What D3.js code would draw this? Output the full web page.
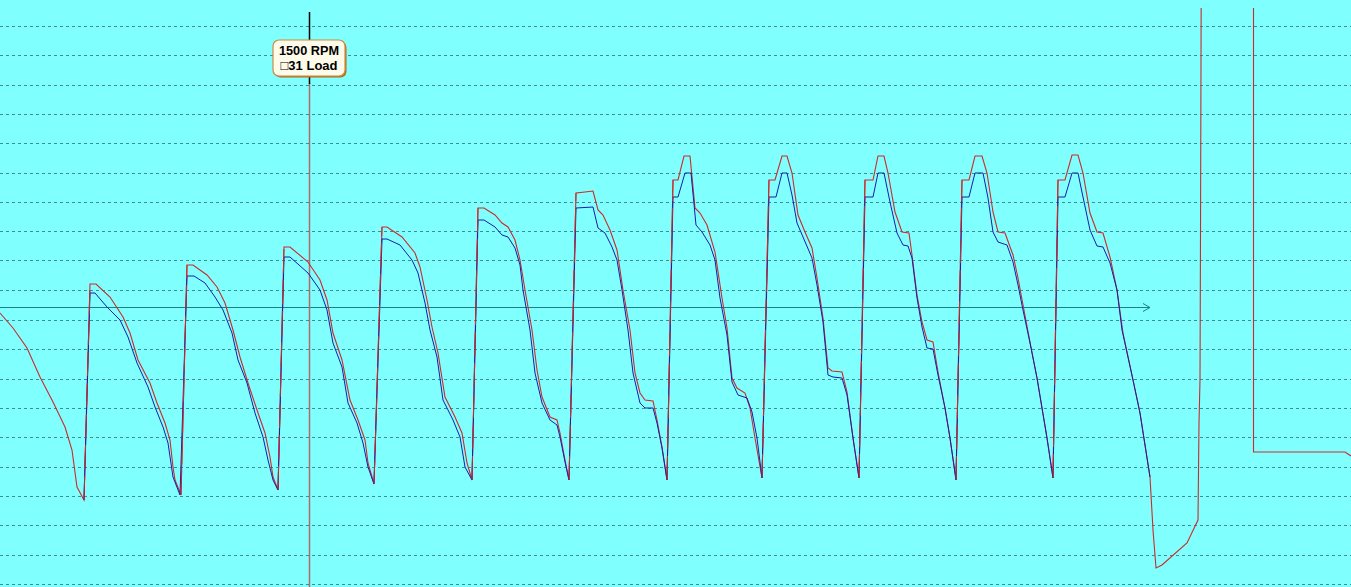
<!DOCTYPE html>
<html>
<head>
<meta charset="utf-8">
<script src="https://cdn.jsdelivr.net/npm/d3@7"></script>
<style>
  html, body { margin: 0; padding: 0; background: #80ffff; overflow: hidden; }
  svg { display: block; }
</style>
</head>
<body>
<svg id="chart" width="1351" height="587"></svg>
<script>
// time in ms, signal in counts above the base line
var timeDomain = [0, 135.1];
var signalDomain = [-280, 307];
var gridLevels = [281, 252, 222, 193, 164, 134, 105, 76, 47, 17, -13, -42, -72, -101, -130, -160, -189, -218, -248, -277];

var cursorTime = 30.9;
var cursorLines = ["1500 RPM", "\u25A131 Load"];

// red trace (outer)
var redTrace = [
  [0, -6], [1.3, -21], [2.7, -41], [4.0, -70], [5.3, -95], [6.5, -120], [7.2, -143], [7.7, -180], [8.4, -193],
  [9.0, 23], [9.6, 23], [11.0, 10], [12.3, -10], [13.0, -26], [13.8, -53], [15.0, -76], [15.7, -96], [16.5, -116], [17.0, -133], [17.3, -160], [17.5, -173], [18.1, -188],
  [18.7, 42], [19.3, 42], [20.7, 32], [21.7, 20], [22.5, 4], [23.3, -23], [24.0, -50], [24.8, -76], [25.7, -103], [26.5, -126], [27.0, -150], [27.3, -170], [27.8, -183],
  [28.4, 60], [29.0, 60], [30.8, 45], [32.0, 27], [32.7, 7], [33.3, -26], [34.2, -53], [35.0, -93], [35.8, -113], [36.5, -133], [36.8, -156], [37.4, -177],
  [38.2, 80], [38.7, 80], [40.2, 70], [41.5, 54], [42.0, 40], [42.7, 7], [43.2, -20], [43.8, -46], [44.5, -90], [45.5, -110], [46.2, -126], [46.7, -156], [47.2, -173],
  [47.8, 99], [48.4, 99], [49.5, 92], [50.2, 84], [50.8, 80], [51.5, 67], [52.0, 47], [52.5, 17], [53.2, -23], [53.7, -63], [54.2, -90], [55.0, -110], [55.7, -113], [56.0, -126], [56.5, -153], [56.9, -173],
  [57.6, 114], [58.5, 115], [59.3, 116], [59.8, 97], [60.3, 92], [61.0, 77], [61.7, 57], [62.3, 17], [63.0, -23], [63.5, -66], [64.0, -86], [64.5, -93], [65.3, -94], [65.7, -113], [66.2, -140], [66.7, -173],
  [67.3, 127], [67.8, 127], [68.4, 151], [69.0, 151], [69.5, 99], [70.0, 94], [70.7, 82], [71.5, 55], [72.2, 9], [72.7, -21], [73.2, -71], [73.7, -81], [74.5, -86], [75.0, -101], [75.5, -131], [76.2, -171],
  [76.9, 127], [77.5, 127], [78.2, 151], [78.7, 151], [79.2, 134], [79.8, 92], [80.5, 75], [81.2, 59], [81.7, 29], [82.3, -11], [82.8, -61], [83.2, -64], [84.2, -65], [84.7, -85], [85.3, -131], [85.9, -171],
  [86.5, 127], [87.3, 127], [87.8, 151], [88.4, 151], [88.8, 134], [89.5, 95], [90.2, 75], [90.9, 74], [91.2, 52], [91.7, 12], [92.2, -15], [92.7, -33], [93.3, -35], [93.8, -65], [94.5, -101], [95.0, -131], [95.6, -173],
  [96.2, 127], [96.9, 127], [97.5, 151], [98.2, 151], [98.7, 134], [99.3, 95], [99.8, 75], [100.5, 74], [101.3, 52], [101.8, 29], [102.3, 2], [103.0, -35], [103.7, -71], [104.2, -101], [104.7, -131], [105.3, -171],
  [105.8, 127], [106.5, 127], [107.2, 152], [107.8, 152], [108.3, 134], [109.0, 94], [109.7, 75], [110.3, 74], [111.0, 50], [111.7, 17], [112.3, -26], [113.3, -73], [114.0, -106], [115.0, -170], [115.3, -223], [115.6, -261]
];
var redTail = [
  [115.6, -261], [116.2, -258], [118.7, -236], [119.8, -213], [119.9, -116], [120.0, -73], [120.05, 71], [120.15, 420],
  [125.35, 420], [125.35, -145], [134.5, -145], [135.1, -149]
];

// blue trace (inner)
var blueTrace = [
  [8.4, -193], [9.0, 14], [9.5, 14], [10.7, 0], [12.0, -13], [12.8, -30], [13.7, -56], [14.8, -80], [15.5, -100], [16.3, -120], [16.8, -136], [17.3, -170], [18.0, -188],
  [18.7, 31], [19.4, 31], [20.5, 24], [21.5, 10], [22.3, -3], [23.2, -26], [23.8, -53], [24.7, -76], [25.5, -106], [26.3, -130], [26.8, -153], [27.3, -173], [27.8, -183],
  [28.4, 50], [29.0, 50], [30.8, 34], [32.0, 17], [32.7, -3], [33.3, -36], [34.2, -60], [34.8, -96], [35.7, -116], [36.3, -136], [36.8, -160], [37.4, -177],
  [38.2, 68], [38.7, 68], [40.0, 62], [41.2, 47], [41.8, 34], [42.5, 4], [43.0, -23], [43.7, -50], [44.3, -93], [45.3, -113], [46.0, -130], [46.5, -160], [47.2, -173],
  [47.8, 87], [48.4, 87], [49.5, 80], [50.2, 72], [50.8, 70], [51.5, 59], [52.0, 42], [52.3, 17], [53.0, -23], [53.5, -66], [54.2, -96], [55.0, -113], [55.7, -118], [56.0, -130], [56.5, -155], [56.9, -173],
  [57.6, 99], [59.3, 100], [59.8, 79], [60.5, 74], [61.2, 60], [61.7, 47], [62.2, 17], [62.8, -23], [63.3, -66], [64.0, -96], [64.5, -101], [65.3, -101], [65.7, -116], [66.2, -141], [66.7, -173],
  [67.3, 110], [67.8, 110], [68.5, 134], [69.1, 134], [69.6, 82], [70.2, 75], [71.0, 62], [71.5, 47], [72.0, 9], [72.7, -28], [73.2, -75], [73.8, -88], [74.7, -91], [75.2, -105], [75.7, -131], [76.2, -171],
  [76.9, 110], [77.6, 110], [78.2, 134], [78.7, 134], [79.2, 112], [79.7, 84], [80.3, 70], [81.2, 49], [81.7, 22], [82.3, -15], [82.8, -68], [83.3, -70], [84.2, -71], [84.7, -88], [85.3, -131], [85.9, -171],
  [86.5, 110], [87.3, 110], [87.8, 134], [88.4, 134], [89.0, 105], [89.7, 74], [90.3, 62], [90.8, 61], [91.2, 49], [91.7, 9], [92.2, -20], [92.7, -41], [93.3, -42], [93.8, -68], [94.5, -101], [95.0, -131], [95.6, -173],
  [96.2, 110], [96.9, 110], [97.5, 134], [98.3, 134], [98.8, 109], [99.3, 75], [99.8, 65], [100.7, 62], [101.3, 45], [101.8, 22], [102.3, -3], [103.0, -36], [103.7, -71], [104.2, -101], [104.7, -131], [105.3, -171],
  [105.8, 110], [106.5, 110], [107.2, 134], [107.8, 134], [108.3, 110], [109.0, 77], [109.7, 61], [110.3, 60], [111.0, 44], [111.7, 17], [112.2, -23], [113.3, -73], [114.0, -106], [115.0, -170]
];

var baseLineEnd = 115.0;

var W = 1351, H = 587;
var svg = d3.select('#chart');

var xScale = d3.scaleLinear().domain(timeDomain).range([0, W]);
var yScale = d3.scaleLinear().domain(signalDomain).range([H, 0]);

function crisp(v) { return Math.round(v) + 0.5; }

svg.append('rect').attr('width', W).attr('height', H).attr('fill', '#80ffff');

// dashed grid
svg.append('g').selectAll('line')
  .data(gridLevels)
  .enter().append('line')
  .attr('x1', 0).attr('x2', W)
  .attr('y1', d => crisp(yScale(d))).attr('y2', d => crisp(yScale(d)))
  .attr('stroke', '#3b8e98')
  .attr('stroke-width', 1)
  .attr('stroke-dasharray', '3,3');

// base line with arrow
var by = crisp(yScale(0));
var bx = xScale(baseLineEnd);
svg.append('line')
  .attr('x1', 0).attr('x2', bx).attr('y1', by).attr('y2', by)
  .attr('stroke', '#1d7f8c').attr('stroke-width', 1);
svg.append('path')
  .attr('d', 'M' + (bx - 7) + ',' + (by - 4) + 'L' + bx + ',' + by + 'L' + (bx - 7) + ',' + (by + 4))
  .attr('fill', 'none').attr('stroke', '#1d7f8c').attr('stroke-width', 1);

// clip for traces
svg.append('clipPath').attr('id', 'plotClip')
  .append('rect').attr('x', 0).attr('y', 8).attr('width', W).attr('height', H - 8);

var line = d3.line()
  .x(d => xScale(d[0]))
  .y(d => yScale(d[1]));

// cursor line (lower part)
var cx = crisp(xScale(cursorTime));
svg.append('line')
  .attr('x1', cx).attr('x2', cx).attr('y1', 83).attr('y2', H)
  .attr('stroke', '#b26a6a').attr('stroke-width', 1.5);

var redColor = '#cc2a2a', blueColor = '#1c1ca8';
var traces = svg.append('g').attr('clip-path', 'url(#plotClip)');
traces.append('path').datum(redTrace.concat(redTail.slice(1)))
  .attr('d', line).attr('fill', 'none')
  .attr('stroke', redColor).attr('stroke-width', 1.1);
traces.append('path').datum(blueTrace)
  .attr('d', line).attr('fill', 'none')
  .attr('stroke', blueColor).attr('stroke-width', 1);

// the red rising edges sit over the blue ones, broken so blue shows through
var risingEdges = d3.pairs(redTrace).filter(p => p[1][1] - p[0][1] > 100);
traces.append('g').selectAll('path')
  .data(risingEdges)
  .enter().append('path')
  .attr('d', line)
  .attr('fill', 'none')
  .attr('stroke', redColor).attr('stroke-width', 1)
  .attr('stroke-dasharray', '24,7');

// cursor upper black part
svg.append('line')
  .attr('x1', cx).attr('x2', cx).attr('y1', 12).attr('y2', 84)
  .attr('stroke', '#000').attr('stroke-width', 1.5);

// tooltip box
var bw = 72, bh = 36, bxl = Math.round(xScale(cursorTime)) - 36, byt = 40;
var tip = svg.append('g');
tip.append('rect')
  .attr('x', bxl + 1.5).attr('y', byt + 1.5).attr('width', bw).attr('height', bh)
  .attr('rx', 6).attr('fill', '#b86a1e');
tip.append('rect')
  .attr('x', bxl).attr('y', byt).attr('width', bw).attr('height', bh)
  .attr('rx', 6).attr('fill', '#fffbea')
  .attr('stroke', '#d08a3c').attr('stroke-width', 1.2);
tip.selectAll('text')
  .data(cursorLines)
  .enter().append('text')
  .attr('x', bxl + bw / 2)
  .attr('y', (d, i) => byt + 14.5 + i * 15.7)
  .attr('text-anchor', 'middle')
  .attr('font-family', 'Liberation Sans, Arial, sans-serif')
  .attr('font-weight', 'bold')
  .attr('font-size', '13.5px')
  .attr('textLength', (d, i) => i === 0 ? 60 : 57)
  .attr('lengthAdjust', 'spacingAndGlyphs')
  .attr('fill', '#000')
  .text(d => d);
</script>
</body>
</html>
